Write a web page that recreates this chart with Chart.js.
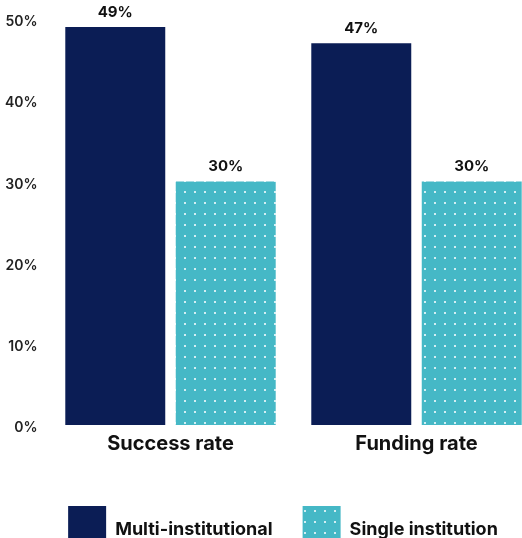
<!DOCTYPE html>
<html>
<head>
<meta charset="utf-8">
<script src="https://cdn.jsdelivr.net/npm/chart.js@4.4.1/dist/chart.umd.min.js"></script>
<style>
  html, body { margin: 0; padding: 0; overflow: hidden; background: #fff; }
  #wrap { position: absolute; left: 0; top: 0; width: 566px; height: 564px; }
</style>
</head>
<body>
<div id="wrap"><canvas id="myChart"></canvas></div>
<script>
var categories = ["Success rate", "Funding rate"];
var multiValues = [49, 47];
var singleValues = [30, 30];
var seriesNames = ["Multi-institutional", "Single institution"];
var yTicks = [0, 10, 20, 30, 40, 50];

var navy = '#0b1d55';
var teal = '#45b8c6';

// dotted fill for the single institution bars
function dotPattern() {
    var c = document.createElement('canvas');
    c.width = 10;
    c.height = 11;
    var g = c.getContext('2d');
    g.fillStyle = teal;
    g.fillRect(0, 0, 10, 11);
    g.fillStyle = 'rgba(225,244,247,0.9)';
    g.fillRect(4, 4, 2, 2);
    return g.createPattern(c, 'repeat');
}

var valueLabels = {
    id: 'valueLabels',
    afterDatasetsDraw: function (chart) {
        var ctx = chart.ctx;
        ctx.save();
        ctx.font = 'bold 15px Inter';
        ctx.fillStyle = '#111';
        ctx.textAlign = 'center';
        ctx.textBaseline = 'bottom';
        chart.data.datasets.forEach(function (ds, di) {
            chart.getDatasetMeta(di).data.forEach(function (bar, i) {
                ctx.fillText(ds.data[i] + '%', bar.x, bar.y - 7);
            });
        });
        ctx.restore();
    }
};

window.onload = function () {
    var ctx = document.getElementById('myChart').getContext('2d');
    var chart = new Chart(ctx, {
        type: 'bar',
        data: {
            labels: categories,
            datasets: [{
                label: seriesNames[0],
                backgroundColor: navy,
                data: multiValues,
                categoryPercentage: 0.898,
                barPercentage: 0.905
            }, {
                label: seriesNames[1],
                backgroundColor: dotPattern(),
                data: singleValues,
                categoryPercentage: 0.898,
                barPercentage: 0.905
            }]
        },
        options: {
            responsive: true,
            maintainAspectRatio: false,
            animation: false,
            layout: { padding: { top: 19, left: 0, right: 0, bottom: 0 } },
            plugins: {
                legend: {
                    position: 'bottom',
                    labels: {
                        boxWidth: 38,
                        boxHeight: 48,
                        padding: 30,
                        color: '#111',
                        font: { family: 'Inter', size: 18, weight: 'bold' }
                    }
                },
                tooltip: { enabled: false }
            },
            scales: {
                x: {
                    grid: { display: false, drawTicks: false },
                    border: { display: false },
                    ticks: {
                        color: '#111',
                        padding: 7,
                        font: { family: 'Inter', size: 20, weight: 'bold' }
                    },
                    afterFit: function (s) { s.height = 51; }
                },
                y: {
                    min: 0,
                    max: 50,
                    grid: { display: false, drawTicks: false },
                    border: { display: false },
                    afterBuildTicks: function (s) {
                        s.ticks = yTicks.map(function (v) { return { value: v }; });
                    },
                    ticks: {
                        color: '#222',
                        padding: 10,
                        labelOffset: 3,
                        font: { family: 'Inter', size: 14, weight: '600' },
                        callback: function (v) { return v + '%'; }
                    },
                    afterFit: function (s) { s.width = 47.5; }
                },
                // empty spacer on the right so the plot ends past the window edge
                yRight: {
                    position: 'right',
                    min: 0,
                    max: 50,
                    grid: { display: false, drawTicks: false },
                    border: { display: false },
                    ticks: { display: false },
                    afterFit: function (s) { s.width = 26.5; }
                }
            }
        },
        plugins: [valueLabels]
    });
};
</script>
</body>
</html>
